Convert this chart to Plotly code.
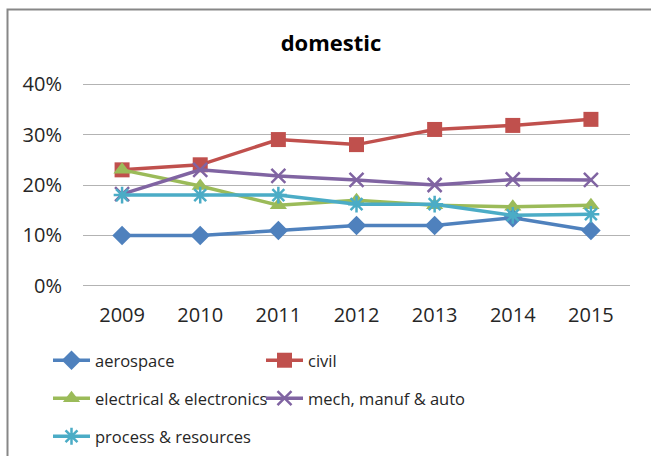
import plotly.graph_objects as go

years = ["2009", "2010", "2011", "2012", "2013", "2014", "2015"]
aerospace = [0.10, 0.10, 0.11, 0.12, 0.12, 0.135, 0.11]
civil = [0.23, 0.24, 0.29, 0.28, 0.31, 0.318, 0.33]
electrical = [0.23, 0.198, 0.16, 0.17, 0.16, 0.157, 0.16]
mech = [0.182, 0.23, 0.218, 0.21, 0.20, 0.211, 0.21]
process = [0.18, 0.18, 0.18, 0.162, 0.162, 0.14, 0.142]
y_ticks = [0, 0.1, 0.2, 0.3, 0.4]
y_tick_labels = ["0%", "10%", "20%", "30%", "40%"]

FONT = "Open Sans"

series = [
    ("aerospace", aerospace, "#4F81BD", dict(symbol="diamond", size=15), "legend"),
    ("civil", civil, "#C0504D", dict(symbol="square", size=15), "legend"),
    ("electrical & electronics", electrical, "#9BBB59", dict(symbol="triangle-up", size=15), "legend2"),
    ("mech, manuf & auto", mech, "#8064A2",
     dict(symbol="x-thin-open", size=14, line=dict(width=2.5, color="#8064A2")), "legend2"),
    ("process & resources", process, "#4BACC6",
     dict(symbol="asterisk-open", size=14, line=dict(width=2.5, color="#4BACC6")), "legend3"),
]

fig = go.Figure()
for name, vals, color, mk, lg in series:
    fig.add_trace(go.Scatter(
        x=years, y=vals, name=name, mode="lines+markers",
        line=dict(color=color, width=3.5),
        marker=dict(color=color, **mk),
        legend=lg,
    ))


def legend_box(top_px):
    return dict(orientation="h", x=48 / 651, xref="container", xanchor="left",
                y=1 - top_px / 456, yref="container", yanchor="top",
                entrywidth=161, itemwidth=37, font=dict(size=16.5, color="#262626"),
                bgcolor="rgba(0,0,0,0)")


fig.update_layout(
    width=651, height=456,
    margin=dict(l=83, r=21, t=82, b=168),
    paper_bgcolor="white", plot_bgcolor="white",
    font=dict(family=FONT, size=18, color="#262626"),
    title=dict(text="<b>domestic</b>", x=331 / 651, xanchor="center", y=1 - 43 / 456, yanchor="middle",
               font=dict(family=FONT, size=22, color="#000000")),
    xaxis=dict(type="category", range=[-0.5, 6.5], showgrid=False, showline=False, zeroline=False,
               ticks="", tickfont=dict(size=20), ticklabelstandoff=13),
    yaxis=dict(range=[-0.004, 0.404], tickvals=y_ticks, ticktext=y_tick_labels, showgrid=True,
               gridcolor="#B3B3B3", gridwidth=1.3, zeroline=False, showline=False, ticks="",
               tickfont=dict(size=20), ticklabelstandoff=20),
    legend=legend_box(343),
    legend2=legend_box(381),
    legend3=legend_box(419),
    showlegend=True,
    shapes=[dict(type="rect", xref="paper", yref="paper",
                 x0=(7.5 - 83) / 547, x1=1.2, y0=-1.5, y1=(288 - 9.5) / 206,
                 line=dict(color="#878787", width=2), layer="below")],
)

fig.write_html("out.html", config={"displayModeBar": False},
               post_script="document.body.style.margin='0';document.body.style.overflow='hidden';")
